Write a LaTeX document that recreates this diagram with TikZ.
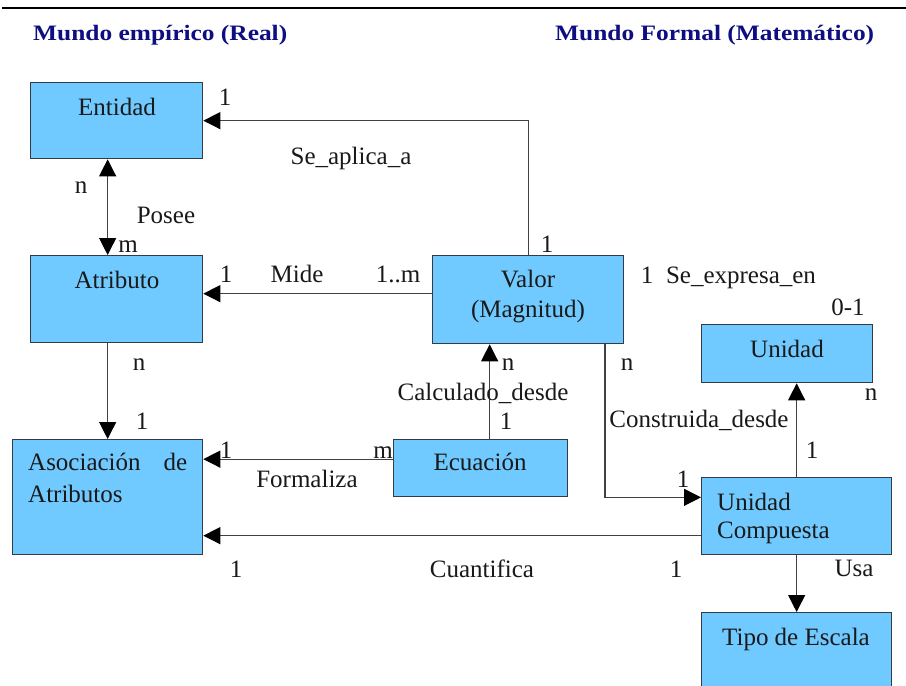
\documentclass[tikz,border=0pt]{standalone}
\usepackage{fontspec}
\setmainfont{Liberation Serif}
\usetikzlibrary{arrows.meta}
\definecolor{boxblue}{RGB}{112,202,255}
\definecolor{boxline}{RGB}{50,60,70}
\definecolor{hdr}{RGB}{14,14,130}
\begin{document}
\begin{tikzpicture}[x=1pt,y=-1pt,
  box/.style={draw=boxline, line width=1.3pt, fill=boxblue, anchor=north west, inner sep=0pt},
  lbl/.style={anchor=base, inner sep=0pt, font=\fontsize{25}{29}\selectfont, text=black!90},
  hdrtxt/.style={anchor=base west, inner sep=0pt, font=\fontsize{22}{26}\selectfont\bfseries, text=hdr},
  conn/.style={draw=black!75, line width=1.2pt},
  arr/.style={conn, -{Triangle[length=17pt,width=17pt,color=black]}},
  arrboth/.style={conn, {Triangle[length=17pt,width=17pt,color=black]}-{Triangle[length=17pt,width=17pt,color=black]}}
]
\clip (0,0) rectangle (906,686);
\fill[white] (0,0) rectangle (906,686);
\draw[line width=2pt] (2,8) -- (906,8);

% headers
\node[hdrtxt] (h1) at (33,40) {\scalebox{1.155}[1]{Mundo empírico (Real)}};
\node[hdrtxt] (h2) at (555,40) {\scalebox{1.155}[1]{Mundo Formal (Matemático)}};

% boxes
\node[box, minimum width=172pt, minimum height=76pt] (entidad) at (30,82) {};
\node[box, minimum width=172pt, minimum height=87pt] (atributo) at (30,255) {};
\node[box, minimum width=190pt, minimum height=115pt] (asoc) at (12,439) {};
\node[box, minimum width=191pt, minimum height=88pt] (valor) at (432,255) {};
\node[box, minimum width=171pt, minimum height=58pt] (unidad) at (701,324) {};
\node[box, minimum width=174pt, minimum height=57pt] (ecuacion) at (393,439) {};
\node[box, minimum width=190pt, minimum height=77pt] (uc) at (701,477) {};
\node[box, minimum width=190pt, minimum height=90pt] (tipo) at (701,612) {};

% box texts
\node[lbl] (tEntidad) at (117,115) {Entidad};
\node[lbl] (tAtributo) at (117,288) {Atributo};
\node[lbl, anchor=base west] (tAsoc1) at (28,470) {\hbox to 159pt{Asociación\hfill de}};
\node[lbl, anchor=base west] (tAsoc2) at (28,502) {Atributos};
\node[lbl] (tValor1) at (528,287) {Valor};
\node[lbl] (tValor2) at (528,317) {(Magnitud)};
\node[lbl] (tUnidad) at (787,357) {Unidad};
\node[lbl] (tEcuacion) at (480,470) {Ecuación};
\node[lbl, anchor=base west] (tUC1) at (717,510) {Unidad};
\node[lbl, anchor=base west] (tUC2) at (717,538) {Compuesta};
\node[lbl] (tTipo) at (796,645) {Tipo de Escala};

% connectors
\draw[arr] (valor.north) |- (entidad.east);
\draw[arrboth] ([xshift=-9pt]entidad.south) -- ([xshift=-9pt]atributo.north);
\draw[arr] ([yshift=6pt]valor.west) -- ([yshift=6pt]valor.west -| atributo.east);
\draw[arr] (atributo.south -| asoc.north) -- (asoc.north);
\coordinate (f1) at ([yshift=9pt]ecuacion.west);
\draw[arr] (f1) -- (f1 -| asoc.east);
\coordinate (c1) at ([yshift=-19.5pt]uc.west);
\draw[arr] (c1) -- (c1 -| asoc.east);
\coordinate (k1) at ([xshift=9pt]ecuacion.north);
\draw[arr] (k1) -- (k1 |- valor.south);
\coordinate (b1) at ([xshift=76.8pt]valor.south);
\coordinate (b2) at ([yshift=18.8pt]uc.west);
\draw[arr] (b1) |- (b2);
\draw[arr] (uc.north) -- (uc.north |- unidad.south);
\draw[arr] (uc.south) -- (tipo.north);

% connector labels
\node[lbl] (l1) at (225,105) {1};
\node[lbl] (l2) at (351,164) {Se\_aplica\_a};
\node[lbl] (l3) at (81,193) {n};
\node[lbl] (l4) at (166,223) {Posee};
\node[lbl] (l5) at (128,252) {m};
\node[lbl] (l6) at (226,282) {1};
\node[lbl] (l7) at (297,282) {Mide};
\node[lbl] (l8) at (398,282) {1..m};
\node[lbl] (l9) at (547,252) {1};
\node[lbl] (l10) at (647,283) {1};
\node[lbl] (l11) at (741,283) {Se\_expresa\_en};
\node[lbl] (l12) at (848,315) {0-1};
\node[lbl] (l13) at (139,370) {n};
\node[lbl] (l14) at (142,429) {1};
\node[lbl] (l15) at (226,458) {1};
\node[lbl] (l16) at (383,458) {m};
\node[lbl] (l17) at (307,487) {Formaliza};
\node[lbl] (l18) at (236,577) {1};
\node[lbl] (l19) at (482,577) {Cuantifica};
\node[lbl] (l20) at (676,577) {1};
\node[lbl] (l21) at (508,370) {n};
\node[lbl] (l22) at (483,400) {Calculado\_desde};
\node[lbl] (l23) at (506,429) {1};
\node[lbl] (l24) at (627,370) {n};
\node[lbl] (l25) at (699,427) {Construida\_desde};
\node[lbl] (l26) at (812,458) {1};
\node[lbl] (l27) at (683,487) {1};
\node[lbl] (l28) at (871,400) {n};
\node[lbl] (l29) at (854,576) {Usa};
\end{tikzpicture}
\end{document}
